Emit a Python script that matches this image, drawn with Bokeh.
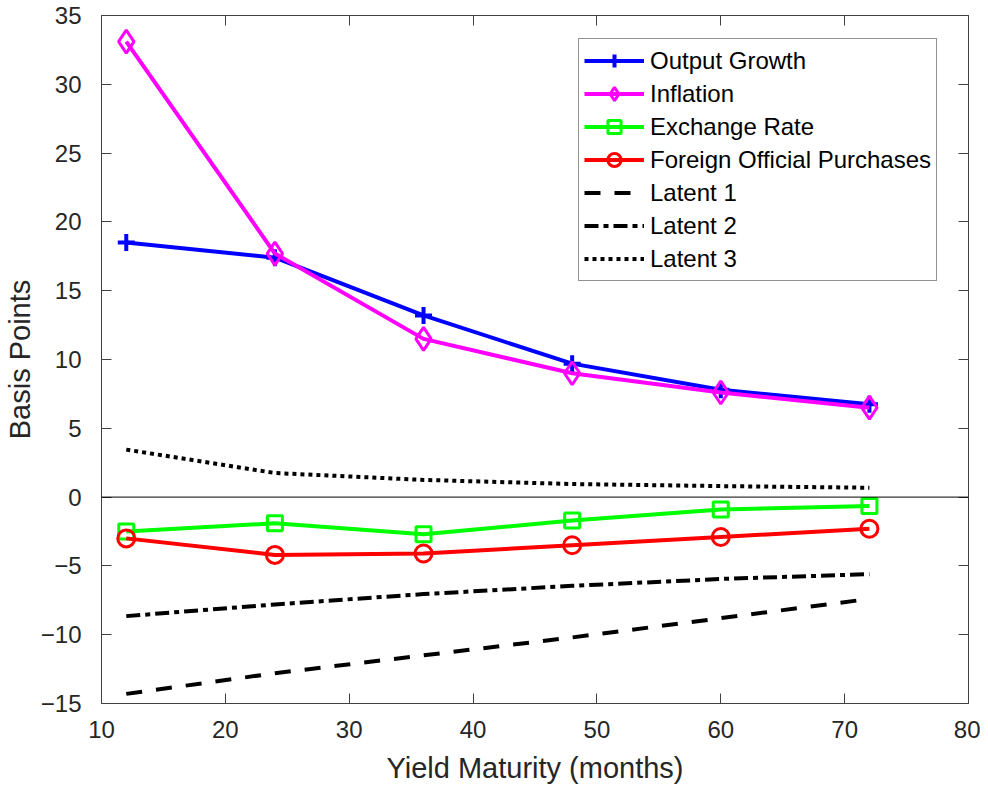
from bokeh.plotting import figure
from bokeh.models import Range1d, FixedTicker, LinearAxis, Span, Legend, LegendItem
from bokeh.embed import file_html
from bokeh.resources import INLINE

maturity = [12, 24, 36, 48, 60, 72]
output_growth = [18.5, 17.4, 13.2, 9.7, 7.8, 6.75]
inflation = [33.1, 17.7, 11.5, 9.0, 7.6, 6.5]
exchange_rate = [-2.5, -1.9, -2.7, -1.7, -0.9, -0.65]
foreign_purchases = [-3.0, -4.2, -4.1, -3.5, -2.9, -2.3]
latent1 = [-14.3, -12.8, -11.5, -10.2, -8.8, -7.4]
latent2 = [-8.65, -7.8, -7.05, -6.45, -5.95, -5.6]
latent3 = [3.45, 1.75, 1.25, 0.95, 0.8, 0.68]

x_ticks = [10, 20, 30, 40, 50, 60, 70, 80]
y_ticks = [-15, -10, -5, 0, 5, 10, 15, 20, 25, 30, 35]

FONT = "Liberation Sans"
AX = "#262626"
AXL = "#404040"

p = figure(width=980, height=787, output_backend="svg", toolbar_location=None,
           x_range=Range1d(10, 80), y_range=Range1d(-15, 35),
           min_border_left=100, min_border_right=12, min_border_top=15, min_border_bottom=84)
p.grid.visible = False
p.outline_line_color = None
p.background_fill_color = "white"

for ax, ticks in ((p.xaxis[0], x_ticks), (p.yaxis[0], y_ticks)):
    ax.ticker = FixedTicker(ticks=ticks)
    ax.major_tick_in = 10
    ax.major_tick_out = 0
    ax.minor_tick_line_color = None
    ax.axis_line_color = AXL
    ax.major_tick_line_color = AXL
    ax.major_label_text_font = FONT
    ax.major_label_text_font_size = "24px"
    ax.major_label_text_color = AX
    ax.axis_label_text_font = FONT
    ax.axis_label_text_font_size = "29px"
    ax.axis_label_text_font_style = "normal"
    ax.axis_label_text_color = AX

p.xaxis.axis_label = "Yield Maturity (months)"
p.yaxis.axis_label = "Basis Points"
p.xaxis.major_label_standoff = 17
p.yaxis.major_label_standoff = 20
p.xaxis.axis_label_standoff = 11
p.yaxis.axis_label_standoff = 2

top = LinearAxis(ticker=FixedTicker(ticks=x_ticks), major_tick_in=10, major_tick_out=0,
                 minor_tick_line_color=None, axis_line_color=AXL, major_tick_line_color=AXL,
                 major_label_text_font_size="0px", major_label_text_color=None)
right = LinearAxis(ticker=FixedTicker(ticks=y_ticks), major_tick_in=10, major_tick_out=0,
                   minor_tick_line_color=None, axis_line_color=AXL, major_tick_line_color=AXL,
                   major_label_text_font_size="0px", major_label_text_color=None)
p.add_layout(top, "above")
p.add_layout(right, "right")

p.add_layout(Span(location=0, dimension="width", line_color="black", line_width=1))

items = []

def series(y, color, marker, label, size, mlw):
    r1 = p.line(maturity, y, line_color=color, line_width=4)
    r2 = p.scatter(maturity, y, marker=marker, size=size, line_color=color,
                   fill_color=None, line_width=mlw)
    items.append(LegendItem(label=label, renderers=[r1, r2]))

series(output_growth, "#0000FF", "cross", "Output Growth", 17, 4)
series(inflation, "#FF00FF", "diamond", "Inflation", 23, 3)
series(exchange_rate, "#00FF00", "square", "Exchange Rate", 15, 3)
series(foreign_purchases, "#FF0000", "circle", "Foreign Official Purchases", 17, 3)

r = p.line(maturity, latent1, line_color="black", line_width=4, line_dash="16 14")
items.append(LegendItem(label="Latent 1", renderers=[r]))
r = p.line(maturity, latent2, line_color="black", line_width=4, line_dash="14 5 5 5")
items.append(LegendItem(label="Latent 2", renderers=[r]))
r = p.line(maturity, latent3, line_color="black", line_width=4, line_dash="4 4")
items.append(LegendItem(label="Latent 3", renderers=[r]))

legend = Legend(items=items, location=(477, 422), glyph_width=60, glyph_height=33,
                label_height=24, spacing=0, padding=5, margin=0, label_standoff=6,
                label_text_font=FONT, label_text_font_size="24px", label_text_color="black",
                border_line_color=AX, border_line_width=1, background_fill_alpha=1)
p.add_layout(legend, "center")

open("out.html", "w").write(file_html(p, INLINE))
